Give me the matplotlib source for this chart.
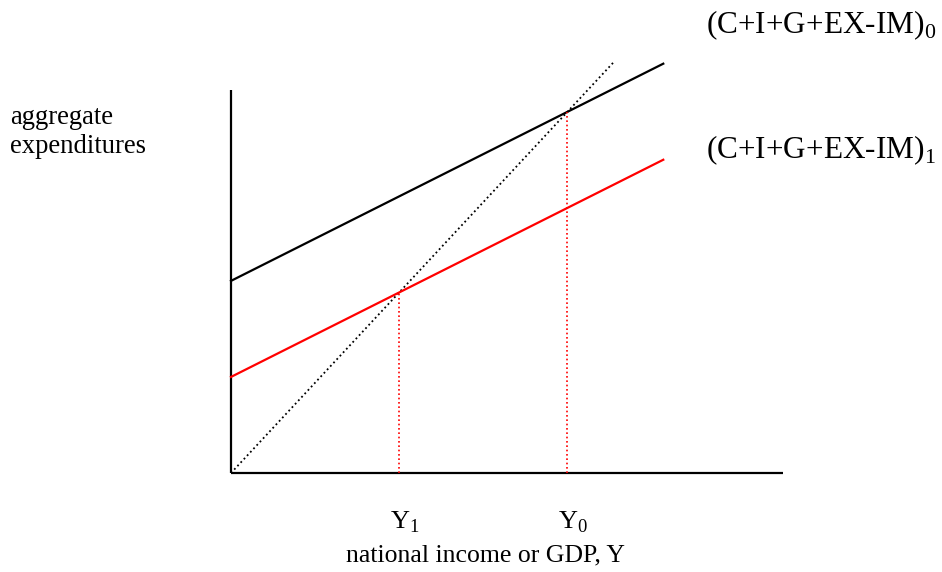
import numpy as np
import matplotlib.pyplot as plt

plt.rcParams['font.family'] = ['Liberation Serif', 'DejaVu Serif']
plt.rcParams['mathtext.fontset'] = 'custom'
plt.rcParams['mathtext.rm'] = 'Liberation Serif'

# aggregate expenditure schedules: intercept + slope * Y
schedule_names = ['(C+I+G+EX-IM)$_\\mathrm{0}$', '(C+I+G+EX-IM)$_\\mathrm{1}$']
intercepts = [4.26, 2.13]
slope = 0.468
schedule_colors = ['black', 'red']
x_end = 10.29

# 45 degree line and equilibrium incomes
diag_end = 9.1
eq_income = [8.0, 4.0]
eq_labels = ['Y$_\\mathrm{0}$', 'Y$_\\mathrm{1}$']

x_axis_len = 13.14
y_axis_len = 8.49

fig = plt.figure(figsize=(9.42, 5.72), dpi=100)
ax = fig.add_axes([231 / 942, 99 / 572, 552 / 942, 9.5 * 45.1 / 572])
ax.set_xlim(0, x_axis_len)
ax.set_ylim(0, 9.5)
ax.axis('off')

# axes drawn as lines
ax.plot([0, x_axis_len], [0, 0], color='black', lw=1.6, clip_on=False, solid_capstyle='butt')
ax.plot([0, 0], [0, y_axis_len], color='black', lw=1.6, clip_on=False, solid_capstyle='butt')

# 45 degree line
d = np.array([0, diag_end])
ax.plot(d, d, color='black', lw=1.3, ls=(0, (1, 1.6)), clip_on=False)

xs = np.array([0, x_end])
for b, c in zip(intercepts, schedule_colors):
    ax.plot(xs, b + slope * xs, color=c, lw=1.6, clip_on=False)

for y in eq_income:
    ax.plot([y, y], [0, y], color='red', lw=1.2, ls=(0, (1, 1.6)))

for y, lab in zip(eq_income, eq_labels):
    ax.annotate(lab, xy=(y, 0), xytext=(4, -40), textcoords='offset points',
                ha='center', va='baseline', fontsize=19, annotation_clip=False)

fig.text(485 / 942, 1 - 561 / 572, 'national income or GDP, Y', ha='center',
         va='baseline', fontsize=18.5)
fig.text(10 / 942, 1 - 153 / 572, 'aggregate\nexpenditures', ha='left',
         va='baseline', fontsize=19.2, linespacing=1.2)

fig.text(706 / 942, 1 - 33 / 572, schedule_names[0], ha='left', va='baseline', fontsize=22.5)
fig.text(706 / 942, 1 - 158 / 572, schedule_names[1], ha='left', va='baseline', fontsize=22.5)

fig.savefig('out.png', dpi=100)
